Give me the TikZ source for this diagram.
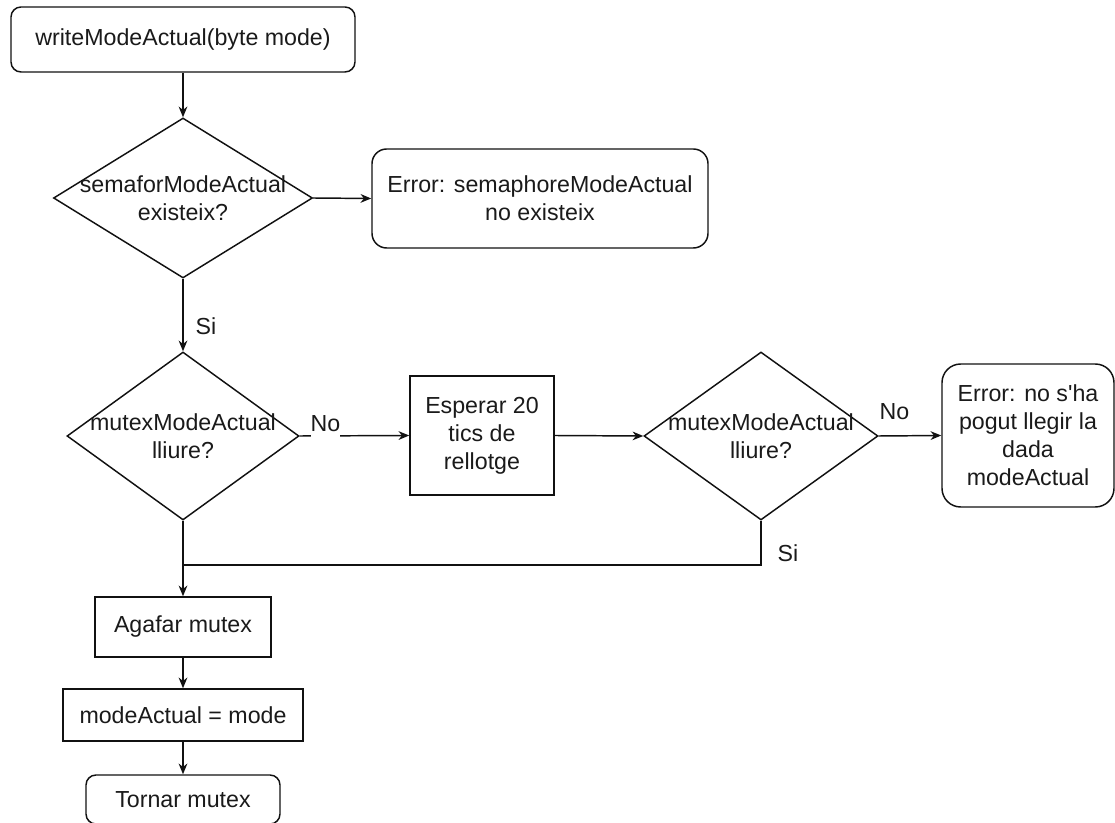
\documentclass[tikz,border=0pt]{standalone}
\usepackage{fontspec}
\setmainfont{Liberation Sans}
\usetikzlibrary{shapes.geometric,arrows.meta}
\definecolor{ln}{HTML}{111111}
\definecolor{txt}{HTML}{1A1A1A}
\def\u{0.75pt}
\begin{document}
\begin{tikzpicture}[x=0.75pt,y=-0.75pt,
  every node/.style={font=\fontsize{17.4pt}{21pt}\selectfont, text=txt},
  base/.style={draw=ln, line width=1.1pt, inner sep=0pt, align=center},
  procbox/.style={base, rectangle},
  termbox/.style={base, rectangle, rounded corners=#1},
  termbox/.default=7.5pt,
  decision/.style={base, diamond, shape aspect=1},
  conn/.style={draw=ln, line width=1.1pt},
  arr/.style={conn, -{Stealth[length=8pt,width=6.5pt,inset=2.5pt]}},
  lbl/.style={inner sep=0pt, anchor=base west}
]
\useasboundingbox (0,0) rectangle (1115,823);

% start
\node[termbox, minimum width=344*\u, minimum height=65*\u] (start) at (183,39.5)
  {writeModeActual(byte mode)};

% semaphore check
\node[decision, minimum width=259*\u, minimum height=160*\u,
  label={[align=center]center:semaforModeActual\\existeix?}] (d1) at (183,198) {};
\node[termbox=11pt, minimum width=336*\u, minimum height=99*\u] (e1) at (540,198.5)
  {Error: semaphoreModeActual\\no existeix};

% first mutex check
\node[decision, minimum width=232*\u, minimum height=168*\u,
  label={[align=center]center:mutexModeActual\\lliure?}] (d2) at (183,436) {};
\node[procbox, minimum width=144*\u, minimum height=119*\u] (wait) at (482,435.5)
  {Esperar 20\\tics de\\rellotge};

% second mutex check
\node[decision, minimum width=234*\u, minimum height=168*\u,
  label={[align=center]center:mutexModeActual\\lliure?}] (d3) at (761,436) {};
\node[termbox=14pt, minimum width=172*\u, minimum height=143*\u] (e2) at (1028,435.5)
  {Error: no s\textquotesingle ha\\pogut llegir la\\dada\\modeActual};

% critical section
\node[procbox, minimum width=176*\u, minimum height=60*\u] (take) at (183,627)
  {Agafar mutex};
\node[procbox, minimum width=240*\u, minimum height=52*\u] (assign) at (183,715)
  {modeActual = mode};
\node[termbox, minimum width=194*\u, minimum height=49*\u] (release) at (183,799.5)
  {Tornar mutex};

\coordinate (join) at (183,565);

% connectors
\draw[arr] (start.south) -- (d1.north);
\draw[arr] (d1.east) -- (e1.west);
\draw[arr] (d1.south) -- node[lbl, pos=0.66, xshift=9pt, anchor=west]{Si} (d2.north);
\draw[arr] (d2.east) -- node[pos=0.234, fill=white, inner xsep=0pt, inner ysep=2pt,
  text depth=5pt, anchor=base, yshift=3pt]{No} (wait.west);
\draw[arr] (wait.east) -- (d3.west);
\draw[arr] (d3.east) -- node[pos=0.25, inner sep=0pt, anchor=base, yshift=12.4pt]{No} (e2.west);
\draw[arr] (d2.south) -- (take.north);
\draw[conn] (d3.south) |- node[lbl, pos=0.37, xshift=12pt, anchor=west]{Si} (join);
\draw[arr] (take.south) -- (assign.north);
\draw[arr] (assign.south) -- (release.north);
\end{tikzpicture}
\end{document}
